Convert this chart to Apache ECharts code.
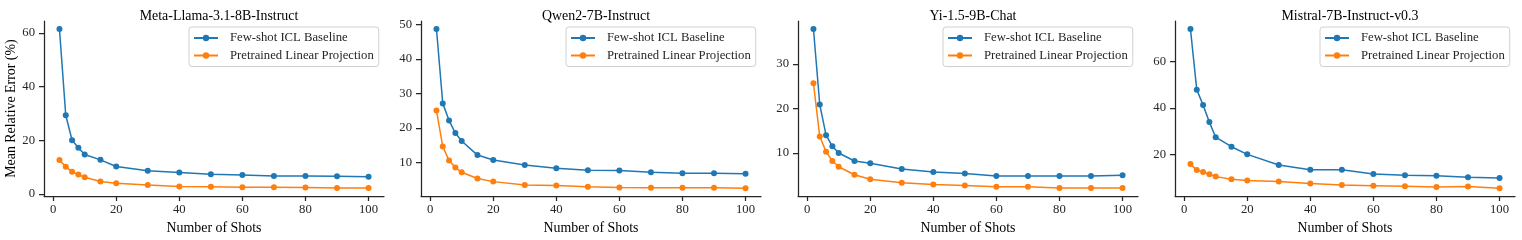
<!DOCTYPE html>
<html>
<head>
<meta charset="utf-8">
<style>
html,body{margin:0;padding:0;background:#fff;}
#chart{width:1522px;height:240px;}
</style>
<script src="https://cdn.jsdelivr.net/npm/echarts@6/dist/echarts.min.js"></script>
</head>
<body>
<div id="chart"></div>
<script>
// ---- data ----
const shots = [2, 4, 6, 8, 10, 15, 20, 30, 40, 50, 60, 70, 80, 90, 100];
const panelTitles = ['Meta-Llama-3.1-8B-Instruct', 'Qwen2-7B-Instruct', 'Yi-1.5-9B-Chat', 'Mistral-7B-Instruct-v0.3'];
const seriesNames = ['Few-shot ICL Baseline', 'Pretrained Linear Projection'];

const llamaICL  = [61.4, 29.3, 20.0, 17.2, 14.7, 12.7, 10.2, 8.6, 8.0, 7.3, 7.1, 6.7, 6.7, 6.6, 6.4];
const llamaProj = [12.6, 10.1, 8.3, 7.2, 6.2, 4.6, 4.0, 3.3, 2.8, 2.7, 2.5, 2.5, 2.4, 2.2, 2.2];
const qwenICL   = [48.7, 27.1, 22.1, 18.5, 16.2, 12.1, 10.7, 9.2, 8.3, 7.7, 7.6, 7.1, 6.8, 6.8, 6.7];
const qwenProj  = [25.0, 14.6, 10.5, 8.5, 7.1, 5.3, 4.4, 3.4, 3.3, 2.9, 2.7, 2.6, 2.6, 2.6, 2.5];
const yiICL     = [37.9, 20.9, 14.0, 11.5, 10.0, 8.2, 7.7, 6.4, 5.7, 5.4, 4.8, 4.8, 4.8, 4.8, 5.0];
const yiProj    = [25.7, 13.7, 10.3, 8.2, 6.9, 5.1, 4.1, 3.3, 2.9, 2.7, 2.4, 2.4, 2.1, 2.1, 2.1];
const mistralICL  = [74.0, 47.9, 41.3, 33.9, 27.4, 23.3, 20.0, 15.4, 13.4, 13.4, 11.5, 11.0, 10.8, 10.1, 9.8];
const mistralProj = [15.8, 13.2, 12.4, 11.4, 10.4, 9.3, 8.7, 8.3, 7.4, 6.8, 6.5, 6.2, 5.9, 6.1, 5.4];

const panelICL  = [llamaICL, qwenICL, yiICL, mistralICL];
const panelProj = [llamaProj, qwenProj, yiProj, mistralProj];

const yTicks = [[0, 20, 40, 60], [10, 20, 30, 40, 50], [10, 20, 30], [20, 40, 60]];
const yMins  = [-0.8, 0.2, 0.3, 2.0];
const yMaxs  = [64.4, 51.0, 39.7, 77.5];
const xTicks = [0, 20, 40, 60, 80, 100];
const xMin = -2.9, xMax = 104.9;

// ---- layout ----
const gridLefts = [44, 421, 798, 1175];
const gridWidth = 340;
const gridTop = 21, gridHeight = 176;
const colors = ['#1f77b4', '#ff7f0e'];
const font = '"Liberation Serif", "DejaVu Serif", serif';
const ink = '#262626';

const grids = [], xAxes = [], yAxes = [], series = [], titles = [], legends = [];
for (let i = 0; i < 4; i++) {
  grids.push({left: gridLefts[i], top: gridTop, width: gridWidth, height: gridHeight, containLabel: false});
  titles.push({
    text: panelTitles[i], left: gridLefts[i] + gridWidth / 2, top: 4, textAlign: 'center',
    textStyle: {fontFamily: font, fontSize: 13.9, fontWeight: 'normal', color: '#000'}
  });
  xAxes.push({
    type: 'value', gridIndex: i, min: xMin, max: xMax,
    name: 'Number of Shots', nameLocation: 'middle', nameGap: 22,
    nameTextStyle: {fontFamily: font, fontSize: 13.9, color: '#000'},
    axisLine: {show: true, onZero: false, lineStyle: {color: ink, width: 1.25}},
    axisTick: {show: true, length: 5, customValues: xTicks, lineStyle: {color: ink, width: 1.25}},
    axisLabel: {customValues: xTicks, margin: 7, fontFamily: font, fontSize: 12.7, color: ink},
    splitLine: {show: false}
  });
  yAxes.push({
    type: 'value', gridIndex: i, min: yMins[i], max: yMaxs[i],
    name: i === 0 ? 'Mean Relative Error (%)' : '', nameLocation: 'middle', nameGap: 23,
    nameTextStyle: {fontFamily: font, fontSize: 13.9, color: '#000'},
    axisLine: {show: true, onZero: false, lineStyle: {color: ink, width: 1.25}},
    axisTick: {show: true, length: 5, customValues: yTicks[i], lineStyle: {color: ink, width: 1.25}},
    axisLabel: {customValues: yTicks[i], margin: 9, fontFamily: font, fontSize: 12.7, color: ink},
    splitLine: {show: false}
  });
  const sets = [panelICL[i], panelProj[i]];
  for (let s = 0; s < 2; s++) {
    series.push({
      type: 'line', name: seriesNames[s], xAxisIndex: i, yAxisIndex: i,
      data: shots.map((x, k) => [x, sets[s][k]]),
      symbol: 'circle', symbolSize: 6, showSymbol: true,
      lineStyle: {color: colors[s], width: 1.5},
      itemStyle: {color: colors[s]},
      z: 3 - s, animation: false
    });
  }
  legends.push({
    data: seriesNames, orient: 'vertical',
    left: gridLefts[i] + gridWidth - 6 - 189, top: 27,
    padding: [4, 5, 4, 4], itemGap: 3.5, itemWidth: 24, itemHeight: 8,
    borderColor: '#d0d0d0', borderWidth: 1, borderRadius: 3,
    backgroundColor: 'rgba(255,255,255,0.85)',
    textStyle: {fontFamily: font, fontSize: 12.7, color: ink, lineHeight: 14, padding: [0, 0, 0, 7]},
    selectedMode: false
  });
}

const chart = echarts.init(document.getElementById('chart'), null, {renderer: 'canvas'});
chart.setOption({
  animation: false,
  backgroundColor: '#fff',
  title: titles, legend: legends, grid: grids, xAxis: xAxes, yAxis: yAxes, series: series
});
</script>
</body>
</html>
